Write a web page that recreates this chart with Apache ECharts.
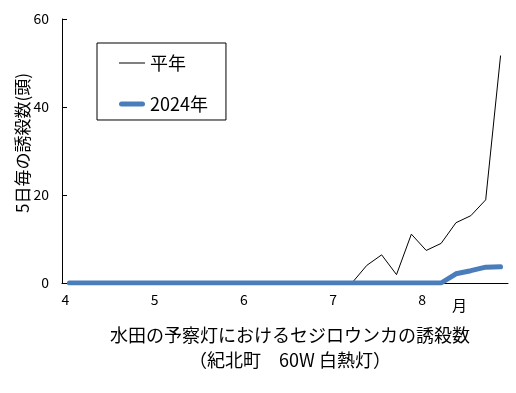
<!DOCTYPE html>
<html><head><meta charset="utf-8">
<script src="https://cdn.jsdelivr.net/npm/echarts@6/dist/echarts.min.js"></script>
<style>html,body{margin:0;padding:0;background:#fff}#c{width:516px;height:393px}</style>
</head><body><div id="c"></div>
<script>
// Months shown on the x axis; each month split into 6 half-month periods (半旬)
const months = ['4', '5', '6', '7', '8'];
const periods = ['1', '2', '3', '4', '5', '6'];
const categories = [];
months.forEach(m => periods.forEach(p => categories.push(m + '月' + p + '半旬')));

// 平年 (normal year) catches per 5 days
const heinen = [0,0,0,0,0,0, 0,0,0,0,0,0, 0,0,0,0,0,0, 0,0,4.0,6.4,1.9,11.1, 7.4,9.0,13.7,15.3,18.9,51.7];
// 2024年 catches per 5 days
const y2024 = [0,0,0,0,0,0, 0,0,0,0,0,0, 0,0,0,0,0,0, 0,0,0,0,0,0, 0,0,2.1,2.8,3.6,3.7];

const yTicks = [0, 20, 40, 60];
const FONT = "'Noto Sans CJK JP', sans-serif";
const BLUE = '#4a7ebb';

const chart = echarts.init(document.getElementById('c'), null, {renderer: 'canvas'});
chart.setOption({
  animation: false,
  backgroundColor: '#fff',
  textStyle: {fontFamily: FONT, color: '#000'},
  title: {
    text: '水田の予察灯におけるセジロウンカの誘殺数\n（紀北町　60W 白熱灯）',
    left: 285, top: 318, textAlign: 'center',
    textStyle: {fontFamily: FONT, fontSize: 18, fontWeight: 'normal', color: '#000', lineHeight: 25}
  },
  grid: {left: 62, right: 8, top: 19, bottom: 110},
  legend: {
    orient: 'vertical', left: 97, top: 43,
    borderColor: '#000', borderWidth: 1,
    padding: [11, 18, 7, 22],
    itemWidth: 26, itemHeight: 14, itemGap: 23,
    textStyle: {fontFamily: FONT, fontSize: 18, color: '#000'},
    data: [
      {name: '平年', icon: 'path://M0,0h26v1h-26z', itemStyle: {color: '#000', borderWidth: 0}},
      {name: '2024年', icon: 'path://M2.5,0h21a2.5,2.5 0 0 1 0,5h-21a2.5,2.5 0 0 1 0,-5z', itemStyle: {color: BLUE, borderWidth: 0}}
    ]
  },
  xAxis: {
    type: 'category', data: categories, boundaryGap: true,
    axisLine: {lineStyle: {color: '#000', width: 1}},
    axisTick: {inside: true, length: 5, lineStyle: {color: '#000'}, interval: (i) => i % 6 === 0},
    axisLabel: {
      interval: (i) => i % 6 === 0,
      formatter: (v) => v.split('月')[0],
      fontSize: 14, color: '#000', margin: 10, padding: [0, 8, 0, 0], fontFamily: FONT
    },
    splitLine: {show: false}
  },
  yAxis: {
    type: 'value', min: yTicks[0], max: yTicks[yTicks.length - 1], interval: 20,
    name: '5日毎の誘殺数(頭)', nameLocation: 'middle', nameGap: 31, nameRotate: 90,
    nameMoveOverlap: false,
    nameTextStyle: {fontFamily: FONT, fontSize: 17, color: '#000', padding: [0, 0, 0, 16]},
    axisLine: {show: true, lineStyle: {color: '#000', width: 1}},
    axisTick: {show: true, inside: true, length: 5, lineStyle: {color: '#000'}},
    axisLabel: {fontSize: 14, color: '#000', margin: 13, fontFamily: FONT},
    splitLine: {show: false}
  },
  graphic: [{
    type: 'text', left: 452, top: 298,
    style: {text: '月', fontSize: 15, fontFamily: FONT, fill: '#000'}
  }],
  series: [
    {
      name: '平年', type: 'line', data: heinen, symbol: 'none',
      lineStyle: {color: '#000', width: 1}, itemStyle: {color: '#000'}, z: 2
    },
    {
      name: '2024年', type: 'line', data: y2024, symbol: 'none',
      lineStyle: {color: BLUE, width: 5, cap: 'round', join: 'round'}, itemStyle: {color: BLUE}, z: 3
    }
  ]
});
</script></body></html>
